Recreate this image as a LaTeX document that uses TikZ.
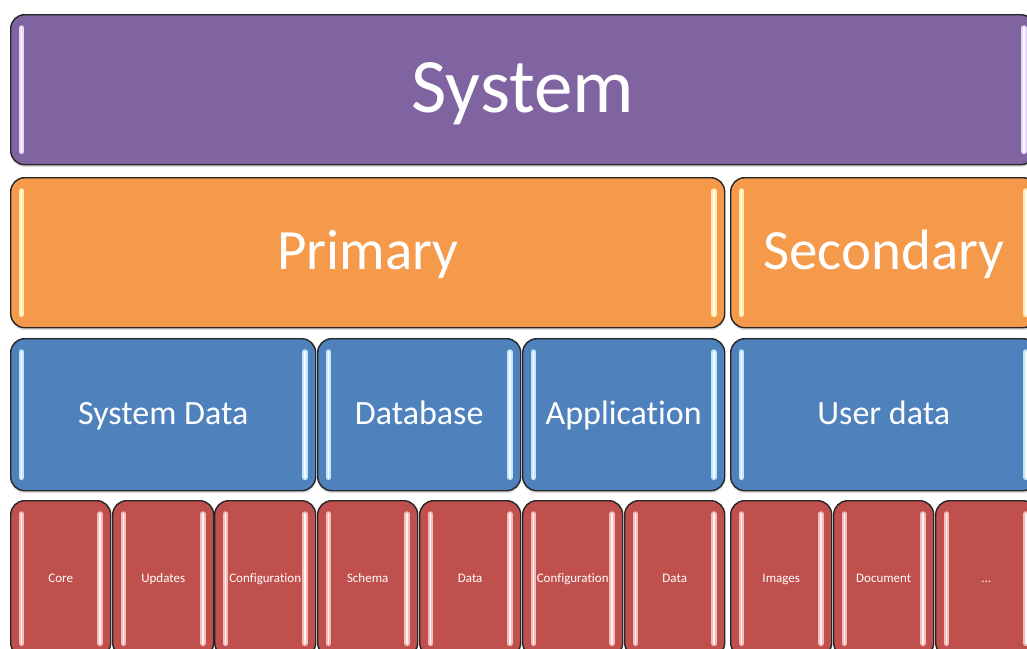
\documentclass[tikz,border=0pt]{standalone}
\usepackage{fontspec}
\setmainfont[Ligatures=NoCommon]{Carlito}
\usetikzlibrary{shadows}
\definecolor{purp}{HTML}{8064A2}
\definecolor{orng}{HTML}{F5994A}
\definecolor{blu}{HTML}{4F81BD}
\definecolor{rd}{HTML}{C0504D}
\definecolor{gpurp}{HTML}{E6DAF7}
\definecolor{gorng}{HTML}{FFEDB0}
\definecolor{gblu}{HTML}{C3E6FA}
\definecolor{grd}{HTML}{F4BDBA}
\tikzset{
  blk/.style={draw=black!85, line width=1.4pt, rounded corners=14pt, inner sep=0pt,
    anchor=north west, text=white,
    drop shadow={opacity=0.25, shadow xshift=0pt, shadow yshift=-2.5pt}},
  glowbar/.style={line cap=round, line width=5.5pt, draw=#1,
    postaction={draw=white, line width=1.8pt, opacity=0.85}},
}
\newcommand\mkblk[9]{%
  \node[blk, fill=#6, minimum width={(#4-#2)*1pt}, minimum height={(#5-#3)*1pt},
        text height=\dimexpr #8pt*7/10\relax, text depth=\dimexpr #8pt/10\relax,
        font=\fontsize{#8}{#8}\selectfont] (#1) at (#2,#3) {#9};
  \draw[glowbar=#7] ([xshift=11.5pt,yshift=-14pt]#1.north west) -- ([xshift=11.5pt,yshift=14pt]#1.south west);
  \draw[glowbar=#7] ([xshift=-11.5pt,yshift=-14pt]#1.north east) -- ([xshift=-11.5pt,yshift=14pt]#1.south east);
}
\begin{document}
\begin{tikzpicture}[x=1pt,y=-1pt]
  \useasboundingbox (0,0) rectangle (1027,648);
  \clip (0,0) rectangle (1027,648);
  \fill[white] (0,0) rectangle (1027,648);
  % level 1
  \mkblk{sys}{10}{14}{1034}{164}{purp}{gpurp}{77}{System}
  % level 2
  \mkblk{prim}{10}{177}{724}{327}{orng}{gorng}{57}{Primary}
  \mkblk{sec}{730}{177}{1036}{327}{orng}{gorng}{57}{Secondary}
  % level 3
  \mkblk{sysd}{10}{338}{315}{490}{blu}{gblu}{34}{System Data}
  \mkblk{db}{317}{338}{520}{490}{blu}{gblu}{34}{Database}
  \mkblk{app}{522}{338}{724}{490}{blu}{gblu}{34}{Application}
  \mkblk{usr}{730}{338}{1036}{490}{blu}{gblu}{34}{User data}
  % level 4
  \mkblk{core}{10}{500}{110}{656}{rd}{grd}{13}{Core}
  \mkblk{upd}{112}{500}{213}{656}{rd}{grd}{13}{Updates}
  \mkblk{conf}{214}{500}{315}{656}{rd}{grd}{13}{Configuration}
  \mkblk{schema}{317}{500}{417}{656}{rd}{grd}{13}{Schema}
  \mkblk{dbdata}{419}{500}{520}{656}{rd}{grd}{13}{Data}
  \mkblk{aconf}{522}{500}{622}{656}{rd}{grd}{13}{Configuration}
  \mkblk{adata}{624}{500}{724}{656}{rd}{grd}{13}{Data}
  \mkblk{img}{730}{500}{831}{656}{rd}{grd}{13}{Images}
  \mkblk{doc}{833}{500}{933}{656}{rd}{grd}{13}{Document}
  \mkblk{more}{935}{500}{1036}{656}{rd}{grd}{13}{...}
\end{tikzpicture}
\end{document}
